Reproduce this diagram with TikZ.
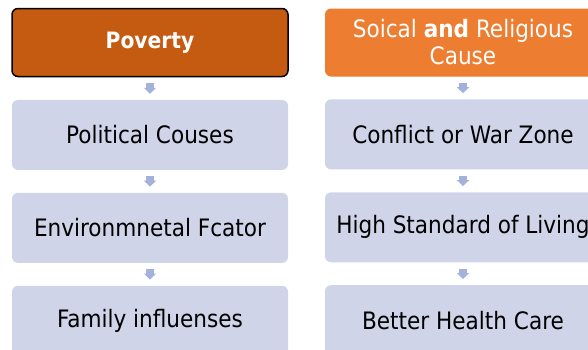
\documentclass[tikz,border=0pt]{standalone}
\usepackage{fontspec}
\setmainfont{DejaVu Sans Condensed}
\usepackage{tikz}
\usetikzlibrary{positioning,arrows.meta}
\definecolor{povfill}{HTML}{C55A11}
\definecolor{causefill}{HTML}{ED7D31}
\definecolor{itemfill}{HTML}{CFD4E8}
\definecolor{gapfill}{HTML}{A3B2DA}

\begin{document}
\begin{tikzpicture}[x=1pt, y=-1pt, node distance=22.5pt,
    box/.style={rounded corners=6pt, minimum width=276pt, minimum height=70pt,
      inner sep=0pt, align=center, font=\fontsize{24}{27}\selectfont},
    head/.style={box, minimum height=68pt, text=white},
    item/.style={box, fill=itemfill, text=black},
    gap/.style={draw=gapfill, line width=8pt, shorten <=6pt, shorten >=6pt,
      -{Triangle[width=12pt,length=6pt]}}]
  \useasboundingbox (0,0) rectangle (588,349);

  % left column
  \node[head, fill=povfill, draw=black, line width=1.5pt,
    font=\fontsize{22.5}{27}\selectfont\bfseries] (pov) at (150,42.5) {Poverty};
  \node[item, below=of pov] (pol) {Political Couses};
  \node[item, below=of pol] (env) {Environmnetal Fcator};
  \node[item, below=of env] (fam) {Family influenses};

  % right column
  \node[head, fill=causefill] (soc) at (463,42.5) {Soical \textbf{and} Religious\\Cause};
  \node[item, below=of soc] (war) {Conflict or War Zone};
  \node[item, below=of war] (liv) {High Standard of Living};
  \node[item, below=of liv] (hc) {Better Health Care};

  \draw[gap] (pov) -- (pol);
  \draw[gap] (pol) -- (env);
  \draw[gap] (env) -- (fam);
  \draw[gap] (soc) -- (war);
  \draw[gap] (war) -- (liv);
  \draw[gap] (liv) -- (hc);

  % \draw[help lines] (0,0) grid (588,349);
\end{tikzpicture}
\end{document}
